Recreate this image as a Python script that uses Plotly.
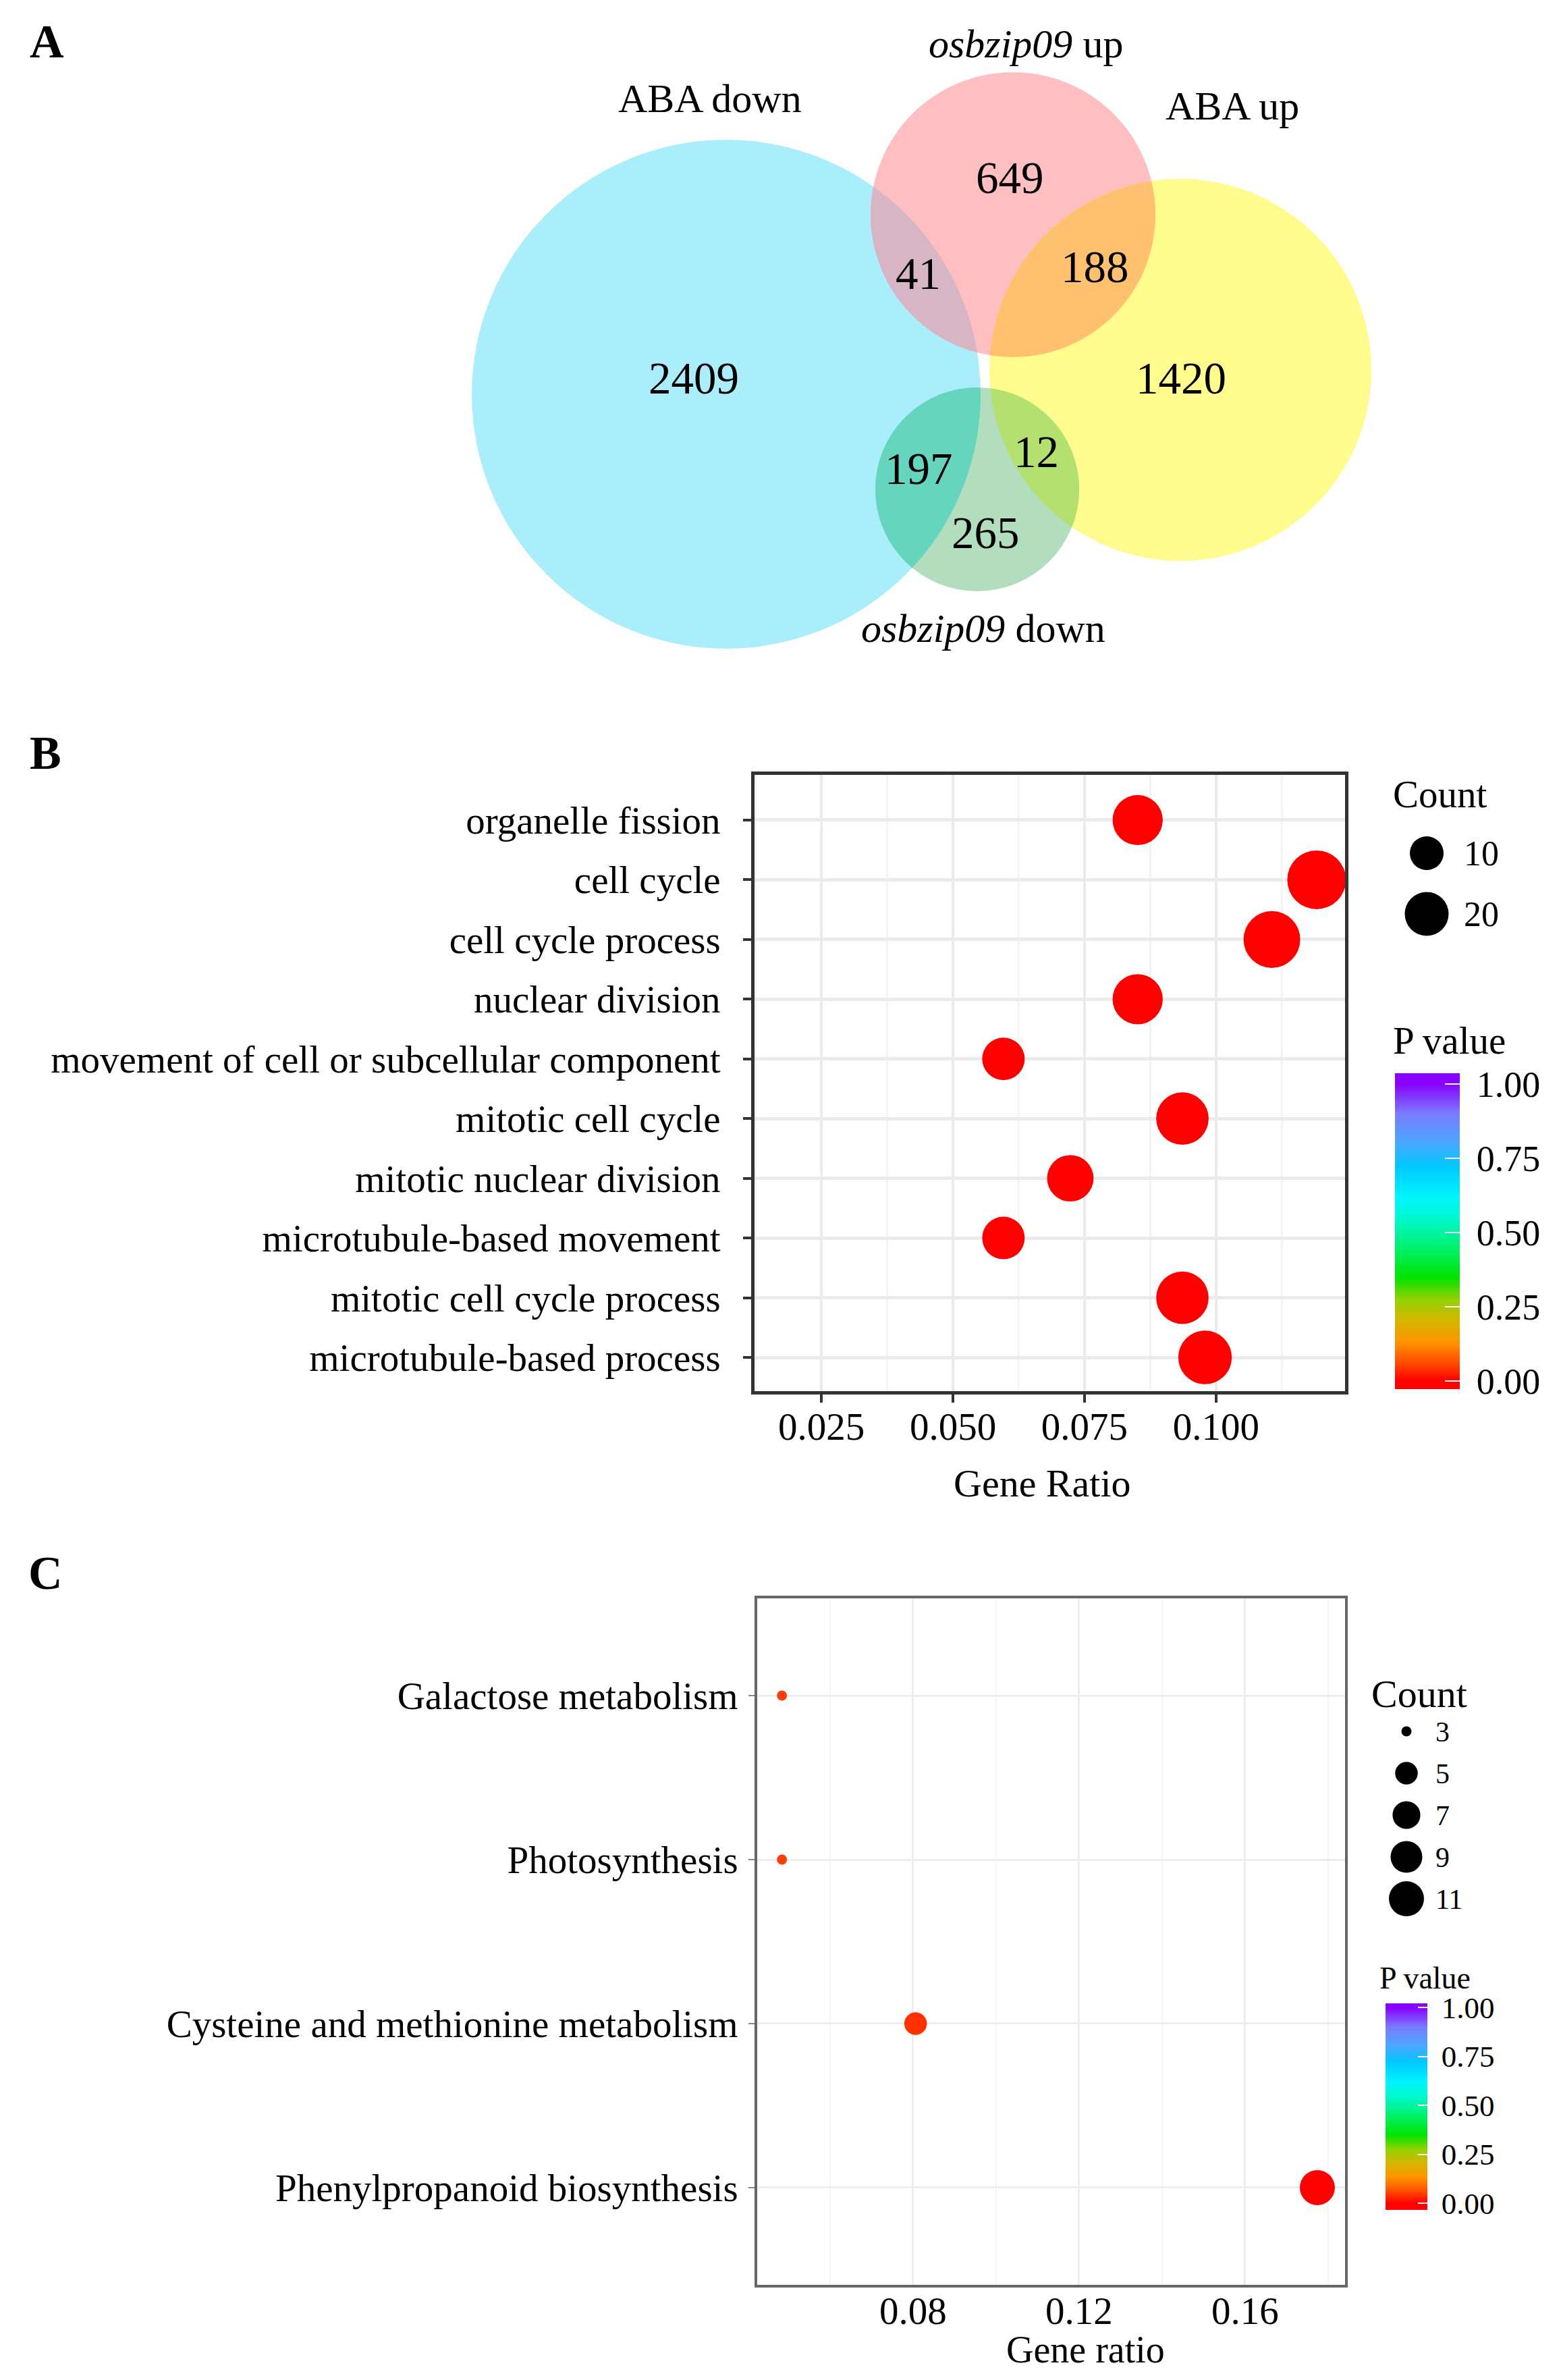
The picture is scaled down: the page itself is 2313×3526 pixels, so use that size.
import numpy as np
import plotly.graph_objects as go

W, H = 2313, 3526
FONT = "Liberation Serif"

# ---------------- Panel A data (Venn region counts) ----------------
venn_set_names = ["ABA down", "<i>osbzip09</i> up", "ABA up", "<i>osbzip09</i> down"]
venn_region_names = ["ABA down only", "osbzip09 up only", "ABA up only",
                     "ABA down & osbzip09 up", "osbzip09 up & ABA up",
                     "ABA down & osbzip09 down", "osbzip09 down only",
                     "osbzip09 down & ABA up"]
venn_region_counts = [2409, 649, 1420, 41, 188, 197, 265, 12]

# ---------------- Panel B data (GO enrichment) ----------------
go_terms = ["organelle fission", "cell cycle", "cell cycle process", "nuclear division",
            "movement of cell or subcellular component", "mitotic cell cycle",
            "mitotic nuclear division", "microtubule-based movement",
            "mitotic cell cycle process", "microtubule-based process"]
go_gene_ratio = [0.0851, 0.1191, 0.1106, 0.0851, 0.0596, 0.0936, 0.0723, 0.0596, 0.0936, 0.0979]
go_count = [20, 28, 26, 20, 14, 22, 17, 14, 22, 23]
go_pvalue = [2e-5, 1e-6, 2e-6, 2e-5, 1e-4, 1e-5, 5e-5, 1e-4, 1e-5, 1e-5]
go_xticks = [0.025, 0.050, 0.075, 0.100]
go_count_legend = [10, 20]

# ---------------- Panel C data (KEGG enrichment) ----------------
kegg_terms = ["Galactose metabolism", "Photosynthesis",
              "Cysteine and methionine metabolism", "Phenylpropanoid biosynthesis"]
kegg_gene_ratio = [0.0484, 0.0484, 0.0806, 0.1774]
kegg_count = [3, 3, 5, 11]
kegg_pvalue = [0.050, 0.050, 0.040, 0.0005]
kegg_xticks = [0.08, 0.12, 0.16]
kegg_count_legend = [3, 5, 7, 9, 11]

pvalue_ticks = [0.00, 0.25, 0.50, 0.75, 1.00]

# ---------------- styles / layout geometry ----------------
# colour stops given in p-value space
pvalue_color_stops = [(0.0, '#FF0000'), (0.06, '#FF4A00'), (0.13, '#FF9300'), (0.2, '#D8B400'),
                      (0.27, '#9AD000'), (0.35, '#00E400'), (0.45, '#00F070'), (0.55, '#00F8D0'),
                      (0.62, '#00F4FF'), (0.72, '#00C8FF'), (0.8, '#4AA8FF'), (0.9, '#7A7CFF'),
                      (1.0, '#8800FF')]


def colorscale_for(cmin, cmax):
    span = cmax - cmin
    cs = [[0.0, pvalue_color_stops[0][1]]]
    for p, c in pvalue_color_stops:
        cs.append([(p - cmin) / span, c])
    cs.append([1.0, pvalue_color_stops[-1][1]])
    return cs


# Venn circle geometry in panel-A pixel units (cx, cy, r) and fills
venn_circles = [(1076, 584, 377), (1501, 318, 211), (1749, 548, 283), (1448, 725, 151)]
venn_fills = ['#AAEEFC', '#FFBEC0', '#FFFB8C', '#B2DEBE']
venn_lenses = [((0, 1), '#D8B5C4'), ((1, 2), '#FFC070'), ((0, 3), '#66D5BE'), ((3, 2), '#B4E070')]
venn_set_label_pos = [(1052, 146), (1520, 65), (1826, 157), (1457, 931)]
venn_region_pos = [(1028, 560), (1496, 263), (1750, 560), (1360, 405), (1622, 395),
                   (1361, 694), (1460, 789), (1535, 669)]


def px_x(p):
    return p / W


def px_y(p):
    return 1 - p / H


def size_go(c):
    return 15.5 * np.sqrt(c) + 5.0


def size_go_legend(c):
    return 50 + (c - 10) * 1.5


def size_kegg(c):
    return 15 + 37 * np.sqrt((c - 3) / 8.0)


def lens_path(c1, c2, n=160):
    (x1, y1, r1), (x2, y2, r2) = c1, c2
    d = np.hypot(x2 - x1, y2 - y1)
    th = np.arctan2(y2 - y1, x2 - x1)
    a = (r1 ** 2 - r2 ** 2 + d ** 2) / (2 * d)
    a1 = np.arccos(a / r1)
    a2 = np.arccos((d - a) / r2)
    t1 = np.linspace(th - a1, th + a1, n)
    t2 = np.linspace(th + np.pi - a2, th + np.pi + a2, n)
    xs = np.concatenate([x1 + r1 * np.cos(t1), x2 + r2 * np.cos(t2)])
    ys = np.concatenate([y1 + r1 * np.sin(t1), y2 + r2 * np.sin(t2)])
    return "M " + " L ".join(f"{x:.2f},{y:.2f}" for x, y in zip(xs, ys)) + " Z"


def minor_vals(ticks, lo, hi):
    step = ticks[1] - ticks[0]
    vals = []
    v = ticks[0] - step / 2
    while v <= hi:
        if v >= lo:
            vals.append(round(v, 6))
        v += step
    return vals


fig = go.Figure()

# ---------------- Panel B ----------------
B_x = (1118, 1993)
B_y = (1148, 2061)
B_range = [0.0123, 0.1245]
fig.add_trace(go.Scatter(
    x=go_gene_ratio, y=list(range(len(go_terms))), mode='markers',
    marker=dict(size=[size_go(c) for c in go_count], color=go_pvalue, coloraxis='coloraxis',
                line=dict(width=0), opacity=1),
    xaxis='x', yaxis='y', showlegend=False, hoverinfo='skip'))

# ---------------- Panel C ----------------
C_x = (1122, 1993)
C_y = (2368, 3385)
C_range = [0.04244, 0.18407]
fig.add_trace(go.Scatter(
    x=kegg_gene_ratio, y=list(range(len(kegg_terms))), mode='markers',
    marker=dict(size=[size_kegg(c) for c in kegg_count], color=kegg_pvalue, coloraxis='coloraxis2',
                line=dict(width=0), opacity=1),
    xaxis='x2', yaxis='y2', showlegend=False, hoverinfo='skip'))

# ---------------- Count legends ----------------
fig.add_trace(go.Scatter(
    x=[0] * len(go_count_legend), y=list(range(len(go_count_legend))), mode='markers',
    marker=dict(size=[size_go_legend(c) for c in go_count_legend], color='black',
                line=dict(width=0), opacity=1),
    xaxis='x4', yaxis='y4', showlegend=False, hoverinfo='skip'))
fig.add_trace(go.Scatter(
    x=[0] * len(kegg_count_legend), y=list(range(len(kegg_count_legend))), mode='markers',
    marker=dict(size=[size_kegg(c) for c in kegg_count_legend], color='black',
                line=dict(width=0), opacity=1),
    xaxis='x5', yaxis='y5', showlegend=False, hoverinfo='skip'))

tickfont = dict(family=FONT, size=57, color='black')

cminB, cmaxB = -0.027, 1.036
cminC, cmaxC = -0.034, 1.021

layout = dict(
    width=W, height=H, template='none',
    margin=dict(l=0, r=0, t=0, b=0, pad=0),
    paper_bgcolor='white', plot_bgcolor='white',
    showlegend=False,
    font=dict(family=FONT, color='black'),
    # Panel B axes
    xaxis=dict(domain=[px_x(B_x[0]), px_x(B_x[1])], range=B_range, anchor='y',
               tickmode='array', tickvals=go_xticks, ticktext=[f"{v:.3f}" for v in go_xticks],
               showgrid=True, gridcolor='#EBEBEB', gridwidth=4,
               minor=dict(tickmode='array', tickvals=minor_vals(go_xticks, B_range[0], B_range[1]),
                          showgrid=True, gridcolor='#F4F4F4', gridwidth=3, ticks=''),
               showline=True, mirror=True, linecolor='#333333', linewidth=5,
               ticks='outside', ticklen=12, tickwidth=4, tickcolor='#333333',
               tickfont=tickfont, ticklabelstandoff=-13, zeroline=False, automargin=False),
    yaxis=dict(domain=[px_y(B_y[1]), px_y(B_y[0])], range=[9.565, -0.757], anchor='x',
               tickmode='array', tickvals=list(range(len(go_terms))), ticktext=go_terms,
               showgrid=True, gridcolor='#EBEBEB', gridwidth=5,
               showline=True, mirror=True, linecolor='#333333', linewidth=5,
               ticks='outside', ticklen=12, tickwidth=4, tickcolor='#333333',
               tickfont=tickfont, ticklabelstandoff=22, zeroline=False, automargin=False),
    # Panel C axes
    xaxis2=dict(domain=[px_x(C_x[0]), px_x(C_x[1])], range=C_range, anchor='y2',
                tickmode='array', tickvals=kegg_xticks, ticktext=[f"{v:.2f}" for v in kegg_xticks],
                showgrid=True, gridcolor='#EDEDED', gridwidth=3,
                minor=dict(tickmode='array', tickvals=minor_vals(kegg_xticks, C_range[0], C_range[1]),
                           showgrid=True, gridcolor='#F6F6F6', gridwidth=2, ticks=''),
                showline=True, mirror=True, linecolor='#666666', linewidth=4,
                ticks='', ticklen=0, tickfont=tickfont, ticklabelstandoff=-14,
                zeroline=False, automargin=False),
    yaxis2=dict(domain=[px_y(C_y[1]), px_y(C_y[0])], range=[3.593, -0.593], anchor='x2',
                tickmode='array', tickvals=list(range(len(kegg_terms))), ticktext=kegg_terms,
                showgrid=True, gridcolor='#EDEDED', gridwidth=3,
                showline=True, mirror=True, linecolor='#666666', linewidth=4,
                ticks='outside', ticklen=9, tickwidth=2, tickcolor='#888888',
                tickfont=tickfont, ticklabelstandoff=4, zeroline=False, automargin=False),
    # Panel A canvas (pixel units)
    xaxis3=dict(domain=[0, 1], range=[0, W], anchor='y3', visible=False, fixedrange=True),
    yaxis3=dict(domain=[px_y(1000), 1], range=[1000, 0], anchor='x3', visible=False, fixedrange=True),
    # Count legend B
    xaxis4=dict(domain=[px_x(2064), px_x(2164)], range=[-1, 1], anchor='y4', visible=False),
    yaxis4=dict(domain=[px_y(1399), px_y(1219)], range=[1.5, -0.5], anchor='x4', side='right',
                tickmode='array', tickvals=list(range(len(go_count_legend))),
                ticktext=[str(c) for c in go_count_legend], showgrid=False, zeroline=False,
                showline=False, ticks='', tickfont=dict(family=FONT, size=52, color='black'),
                ticklabelstandoff=4, automargin=False),
    # Count legend C
    xaxis5=dict(domain=[px_x(2044), px_x(2124)], range=[-1, 1], anchor='y5', visible=False),
    yaxis5=dict(domain=[px_y(2844), px_y(2534)], range=[4.5, -0.5], anchor='x5', side='right',
                tickmode='array', tickvals=list(range(len(kegg_count_legend))),
                ticktext=[str(c) for c in kegg_count_legend], showgrid=False, zeroline=False,
                showline=False, ticks='', tickfont=dict(family=FONT, size=42, color='black'),
                ticklabelstandoff=2, automargin=False),
    coloraxis=dict(cmin=cminB, cmax=cmaxB, colorscale=colorscale_for(cminB, cmaxB),
                   colorbar=dict(x=px_x(2067), xanchor='left', xpad=0, y=px_y(1590), yanchor='top',
                                 ypad=0, lenmode='pixels', len=468, thicknessmode='pixels',
                                 thickness=96, outlinewidth=0, tickmode='array', tickvals=pvalue_ticks,
                                 ticktext=["\u00a0" + f"{v:.2f}" for v in pvalue_ticks],
                                 ticks='inside', ticklen=22, tickwidth=2, tickcolor='white',
                                 tickfont=dict(family=FONT, size=54, color='black'))),
    coloraxis2=dict(cmin=cminC, cmax=cmaxC, colorscale=colorscale_for(cminC, cmaxC),
                    colorbar=dict(x=px_x(2053), xanchor='left', xpad=0, y=px_y(2968), yanchor='top',
                                  ypad=0, lenmode='pixels', len=306, thicknessmode='pixels',
                                  thickness=62, outlinewidth=0, tickmode='array', tickvals=pvalue_ticks,
                                  ticktext=["\u00a0" + f"{v:.2f}" for v in pvalue_ticks],
                                  ticks='inside', ticklen=14, tickwidth=2, tickcolor='white',
                                  tickfont=dict(family=FONT, size=45, color='black'))),
)
fig.update_layout(**layout)

# ---------------- Venn shapes ----------------
shapes = []
for (cx, cy, r), col in zip(venn_circles, venn_fills):
    shapes.append(dict(type='circle', xref='x3', yref='y3', x0=cx - r, x1=cx + r, y0=cy - r, y1=cy + r,
                       fillcolor=col, line=dict(width=0), layer='above'))
for (i, j), col in venn_lenses:
    shapes.append(dict(type='path', xref='x3', yref='y3', path=lens_path(venn_circles[i], venn_circles[j]),
                       fillcolor=col, line=dict(width=0), layer='above'))
fig.update_layout(shapes=shapes)

ann = []
for name, (x, y) in zip(venn_set_names, venn_set_label_pos):
    ann.append(dict(text=name, x=x, y=y, xref='x3', yref='y3', showarrow=False,
                    xanchor='center', yanchor='middle', font=dict(family=FONT, size=60, color='black')))
for cnt, (x, y) in zip(venn_region_counts, venn_region_pos):
    ann.append(dict(text=str(cnt), x=x, y=y, xref='x3', yref='y3', showarrow=False,
                    xanchor='center', yanchor='middle', font=dict(family=FONT, size=67, color='black')))

# panel letters
for letter, (x, y) in zip(["A", "B", "C"], [(69, 61), (67, 1115), (67, 2330)]):
    ann.append(dict(text=f"<b>{letter}</b>", x=px_x(x), y=px_y(y), xref='paper', yref='paper',
                    showarrow=False, xanchor='center', yanchor='middle',
                    font=dict(family=FONT, size=70, color='black')))

# axis titles & legend titles
txt = [("Gene Ratio", 1544, 2197, 'center', 58), ("Gene ratio", 1608, 3481, 'center', 56),
       ("Count", 2062, 1176, 'left', 57), ("P value", 2062, 1541, 'left', 57),
       ("Count", 2030, 2509, 'left', 58), ("P value", 2042, 2930, 'left', 46)]
for t, x, y, xa, s in txt:
    ann.append(dict(text=t, x=px_x(x), y=px_y(y), xref='paper', yref='paper', showarrow=False,
                    xanchor=xa, yanchor='middle', font=dict(family=FONT, size=s, color='black')))
fig.update_layout(annotations=ann)

fig.write_html("out.html", config={'displayModeBar': False},
               post_script="document.body.style.margin='0';document.body.style.padding='0';")
